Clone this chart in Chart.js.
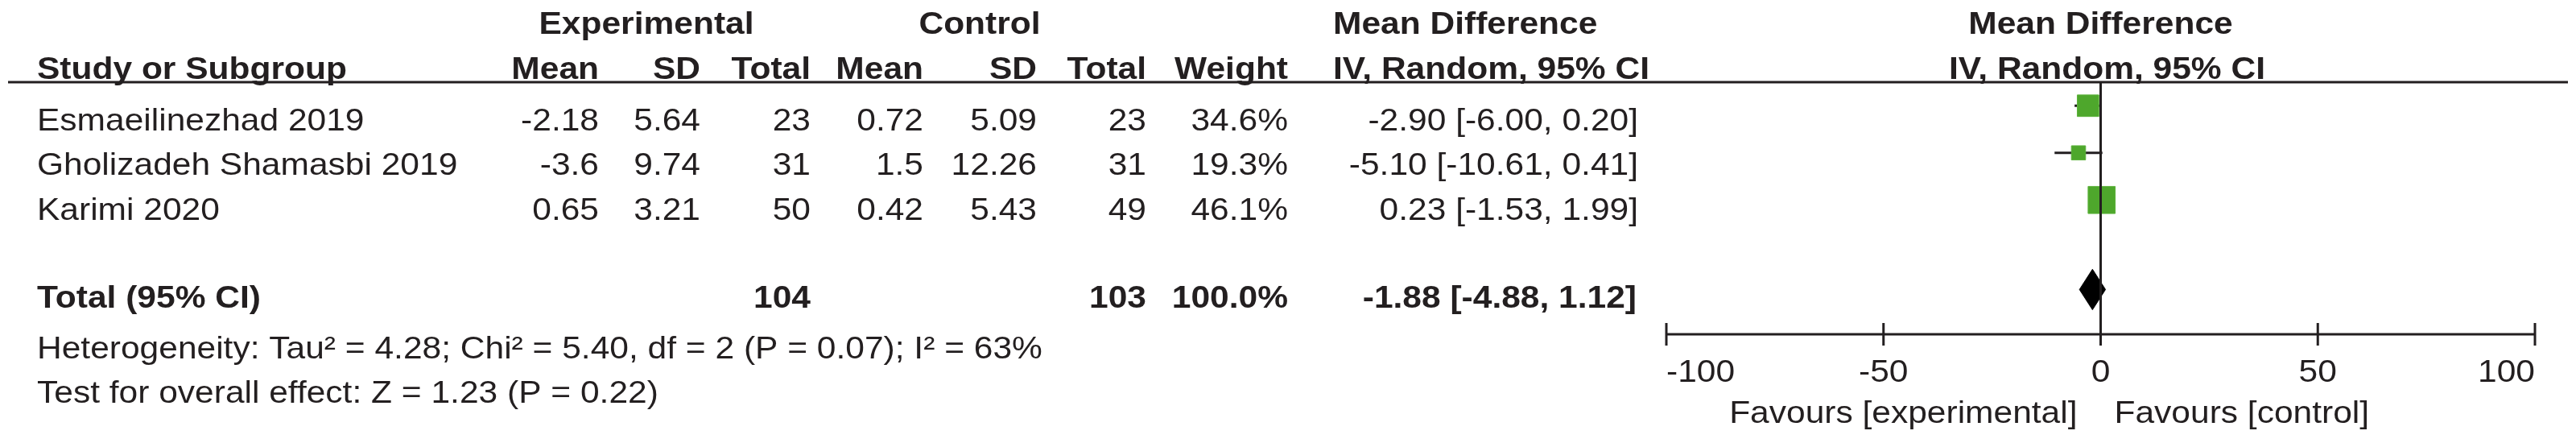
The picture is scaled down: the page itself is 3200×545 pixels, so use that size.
<!DOCTYPE html>
<html>
<head>
<meta charset="utf-8">
<script src="https://cdn.jsdelivr.net/npm/chart.js@4.4.1/dist/chart.umd.min.js"></script>
<style>
  html, body { margin: 0; padding: 0; background: #fff; }
  #wrap { width: 3200px; height: 545px; }
</style>
</head>
<body>
<div id="wrap"><canvas id="forest" width="3200" height="545"></canvas></div>
<script>
// Study level data
const studies = ['Esmaeilinezhad 2019', 'Gholizadeh Shamasbi 2019', 'Karimi 2020'];
const expMean = [-2.18, -3.6, 0.65];
const expSD = [5.64, 9.74, 3.21];
const expN = [23, 31, 50];
const ctrlMean = [0.72, 1.5, 0.42];
const ctrlSD = [5.09, 12.26, 5.43];
const ctrlN = [23, 31, 49];
const weights = [34.6, 19.3, 46.1];
const meanDiff = [-2.90, -5.10, 0.23];
const ciLow = [-6.00, -10.61, -1.53];
const ciHigh = [0.20, 0.41, 1.99];

// Pooled result
const totalExpN = 104;
const totalCtrlN = 103;
const totalWeight = 100.0;
const totalMD = -1.88;
const totalLow = -4.88;
const totalHigh = 1.12;

const xTicks = [-100, -50, 0, 50, 100];
const heterogeneityText = 'Heterogeneity: Tau\u00b2 = 4.28; Chi\u00b2 = 5.40, df = 2 (P = 0.07); I\u00b2 = 63%';
const overallText = 'Test for overall effect: Z = 1.23 (P = 0.22)';

// row index on the y scale
const studyRows = [1, 2, 3];
const totalRow = 4.9;

const INK = '#231f20';
const GREEN = '#4ea72c';
const FONT = '"Liberation Sans", Arial, sans-serif';

function ciLabel(m, lo, hi) {
    return m.toFixed(2) + ' [' + lo.toFixed(2) + ', ' + hi.toFixed(2) + ']';
}

// text is slightly wide in the original, so stretch horizontally
function txt(ctx, s, x, y, align, bold) {
    ctx.save();
    ctx.font = (bold ? 'bold ' : '') + '39px ' + FONT;
    ctx.fillStyle = INK;
    ctx.textBaseline = 'alphabetic';
    ctx.textAlign = align;
    ctx.translate(x, y);
    ctx.scale(1.09, 1);
    ctx.fillText(s, 0, 0);
    ctx.restore();
}

const tablePlugin = {
    id: 'forestTable',
    afterDatasetsDraw(chart) {
        const ctx = chart.ctx;
        const xs = chart.scales.x;
        const area = chart.chartArea;
        const zeroX = xs.getPixelForValue(0);

        // line of no effect
        ctx.save();
        ctx.strokeStyle = INK;
        ctx.lineWidth = 3;
        ctx.beginPath();
        ctx.moveTo(zeroX, area.top);
        ctx.lineTo(zeroX, area.bottom);
        ctx.stroke();

        // header underline
        ctx.beginPath();
        ctx.moveTo(10, area.top);
        ctx.lineTo(3190, area.top);
        ctx.stroke();

        // x axis
        const left = xs.getPixelForValue(xTicks[0]);
        const right = xs.getPixelForValue(xTicks[xTicks.length - 1]);
        ctx.beginPath();
        ctx.moveTo(left, area.bottom);
        ctx.lineTo(right, area.bottom);
        ctx.stroke();
        xTicks.forEach(function(t) {
            const px = xs.getPixelForValue(t);
            ctx.beginPath();
            ctx.moveTo(px, area.bottom - 14);
            ctx.lineTo(px, area.bottom + 14);
            ctx.stroke();
        });
        ctx.restore();

        xTicks.forEach(function(t, i) {
            const px = xs.getPixelForValue(t);
            let align = 'center';
            if (i === 0) align = 'left';
            if (i === xTicks.length - 1) align = 'right';
            txt(ctx, String(t), px, 474, align, false);
        });
        txt(ctx, 'Favours [experimental]', zeroX - 29, 525, 'right', false);
        txt(ctx, 'Favours [control]', zeroX + 17, 525, 'left', false);

        // headers
        txt(ctx, 'Experimental', 803, 42, 'center', true);
        txt(ctx, 'Control', 1217, 42, 'center', true);
        txt(ctx, 'Mean Difference', 1656, 42, 'left', true);
        txt(ctx, 'Mean Difference', zeroX, 42, 'center', true);

        const hy = 98;
        txt(ctx, 'Study or Subgroup', 46, hy, 'left', true);
        txt(ctx, 'Mean', 744, hy, 'right', true);
        txt(ctx, 'SD', 870, hy, 'right', true);
        txt(ctx, 'Total', 1007, hy, 'right', true);
        txt(ctx, 'Mean', 1147, hy, 'right', true);
        txt(ctx, 'SD', 1288, hy, 'right', true);
        txt(ctx, 'Total', 1424, hy, 'right', true);
        txt(ctx, 'Weight', 1600, hy, 'right', true);
        txt(ctx, 'IV, Random, 95% CI', 1656, hy, 'left', true);
        txt(ctx, 'IV, Random, 95% CI', zeroX + 8, hy, 'center', true);

        // study rows
        const baselines = [162, 217, 273];
        studies.forEach(function(name, i) {
            const y = baselines[i];
            txt(ctx, name, 46, y, 'left', false);
            txt(ctx, String(expMean[i]), 744, y, 'right', false);
            txt(ctx, String(expSD[i]), 870, y, 'right', false);
            txt(ctx, String(expN[i]), 1007, y, 'right', false);
            txt(ctx, String(ctrlMean[i]), 1147, y, 'right', false);
            txt(ctx, String(ctrlSD[i]), 1288, y, 'right', false);
            txt(ctx, String(ctrlN[i]), 1424, y, 'right', false);
            txt(ctx, weights[i].toFixed(1) + '%', 1600, y, 'right', false);
            txt(ctx, ciLabel(meanDiff[i], ciLow[i], ciHigh[i]), 2035, y, 'right', false);
        });

        // total row
        const ty = 382;
        txt(ctx, 'Total (95% CI)', 46, ty, 'left', true);
        txt(ctx, String(totalExpN), 1007, ty, 'right', true);
        txt(ctx, String(totalCtrlN), 1424, ty, 'right', true);
        txt(ctx, totalWeight.toFixed(1) + '%', 1600, ty, 'right', true);
        txt(ctx, ciLabel(totalMD, totalLow, totalHigh), 2033, ty, 'right', true);

        txt(ctx, heterogeneityText, 46, 445, 'left', false);
        txt(ctx, overallText, 46, 500, 'left', false);
    }
};

// datasets
const ciSets = studies.map(function(name, i) {
    return {
        label: name + ' CI',
        data: [{ x: ciLow[i], y: studyRows[i] }, { x: ciHigh[i], y: studyRows[i] }],
        showLine: true,
        borderColor: INK,
        borderWidth: 3,
        pointRadius: 0,
        order: 2
    };
});

const squareSet = {
    label: 'Study estimates',
    data: meanDiff.map(function(m, i) { return { x: m, y: studyRows[i] }; }),
    pointStyle: 'rect',
    pointRadius: weights.map(function(w) { return (6 + 0.6 * w) / Math.SQRT2; }),
    backgroundColor: GREEN,
    borderColor: '#5bb23a',
    borderWidth: 1,
    order: 1
};

const diamondHalf = 0.43;
const diamondSet = {
    label: 'Pooled estimate',
    data: [
        { x: totalLow, y: totalRow },
        { x: totalMD, y: totalRow - diamondHalf },
        { x: totalHigh, y: totalRow },
        { x: totalMD, y: totalRow + diamondHalf },
        { x: totalLow, y: totalRow }
    ],
    showLine: true,
    fill: 'shape',
    backgroundColor: '#000',
    borderColor: '#000',
    borderWidth: 1,
    pointRadius: 0,
    tension: 0,
    order: 1
};

new Chart(document.getElementById('forest').getContext('2d'), {
    type: 'scatter',
    data: { datasets: ciSets.concat([squareSet, diamondSet]) },
    options: {
        responsive: false,
        animation: false,
        devicePixelRatio: 1,
        layout: { padding: { left: 2070, right: 51, top: 102, bottom: 130 } },
        plugins: { legend: { display: false }, tooltip: { enabled: false } },
        scales: {
            x: { type: 'linear', min: -100, max: 100, display: false },
            y: { type: 'linear', min: 0.5, max: 5.85, reverse: true, display: false }
        }
    },
    plugins: [tablePlugin]
});
</script>
</body>
</html>
